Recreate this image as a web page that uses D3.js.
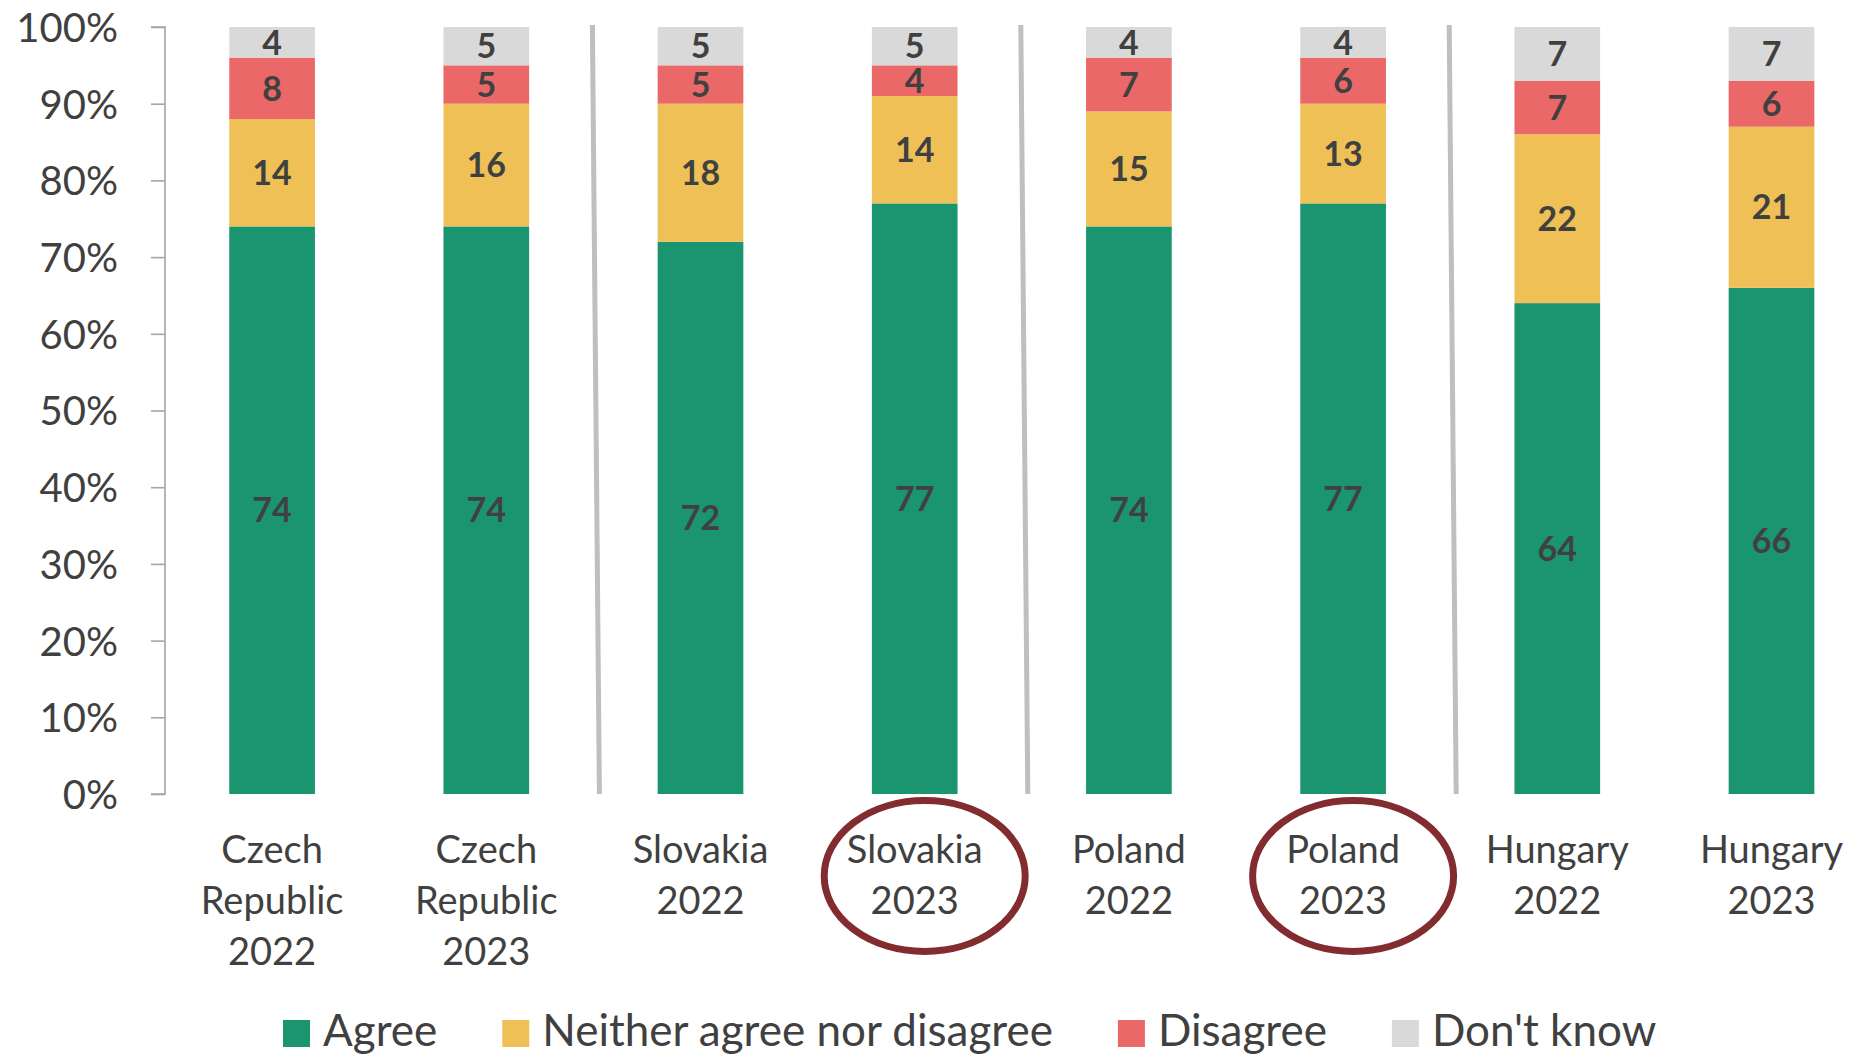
<!DOCTYPE html>
<html>
<head>
<meta charset="utf-8">
<script src="https://cdn.jsdelivr.net/npm/d3@7"></script>
<style>
  html, body { margin: 0; padding: 0; background: #ffffff; }
  svg { display: block; }
  text { font-family: Lato, "Open Sans", sans-serif; }
</style>
</head>
<body>
<svg id="chart" width="1849" height="1057"></svg>
<script>
// ---- data ----
const categories = [
  "Czech Republic 2022", "Czech Republic 2023",
  "Slovakia 2022", "Slovakia 2023",
  "Poland 2022", "Poland 2023",
  "Hungary 2022", "Hungary 2023"
];
const seriesNames = ["Agree", "Neither agree nor disagree", "Disagree", "Don't know"];
const agree    = [74, 74, 72, 77, 74, 77, 64, 66];
const neither  = [14, 16, 18, 14, 15, 13, 22, 21];
const disagree = [8, 5, 5, 4, 7, 6, 7, 6];
const dontKnow = [4, 5, 5, 5, 4, 4, 7, 7];
const yTicks = [0, 10, 20, 30, 40, 50, 60, 70, 80, 90, 100];
const highlighted = ["Slovakia 2023", "Poland 2023"];
const separatorsAfter = ["Czech Republic 2023", "Slovakia 2023", "Poland 2023"];

// ---- styles ----
const colors = ["#1b9470", "#efc056", "#ea6868", "#d9d9d9"];
const textColor = "#404040";

const svg = d3.select("#chart");
const plot = { left: 165, top: 27, bottom: 794 };
const bandStep = 214.2;

const x = d3.scaleBand()
  .domain(categories)
  .range([plot.left, plot.left + bandStep * categories.length])
  .paddingInner(0.6)
  .paddingOuter(0.3);

const y = d3.scaleLinear().domain([0, 100]).range([plot.bottom, plot.top]);

const rows = categories.map((c, i) => ({
  cat: c,
  "Agree": agree[i],
  "Neither agree nor disagree": neither[i],
  "Disagree": disagree[i],
  "Don't know": dontKnow[i]
}));
const stacked = d3.stack().keys(seriesNames)(rows);

// y axis
const yAxis = d3.axisLeft(y)
  .tickValues(yTicks)
  .tickFormat(d => d + "%")
  .tickSize(14)
  .tickPadding(33);
const gy = svg.append("g").attr("transform", `translate(${plot.left},0)`).call(yAxis);
gy.select(".domain").attr("stroke", "#a6a6a6").attr("stroke-width", 1.6)
  .attr("d", `M-14,${y(100)}H0V${y(0)}H-14`);
gy.selectAll(".tick line").attr("stroke", "#a6a6a6").attr("stroke-width", 1.6);
gy.selectAll(".tick text")
  .attr("fill", textColor)
  .attr("font-size", 40)
  .attr("font-family", "Lato, sans-serif")
  .attr("dy", "0.36em");

// separators
const sepG = svg.append("g");
separatorsAfter.forEach(c => {
  const b = x(c) + x.bandwidth() + x.step() * x.paddingInner() / 2;
  sepG.append("line")
    .attr("x1", b - 1).attr("y1", y(100) - 2)
    .attr("x2", b + 6).attr("y2", y(0))
    .attr("stroke", "#bfbfbf")
    .attr("stroke-width", 5);
});

// bars
const layers = svg.append("g").selectAll("g")
  .data(stacked)
  .join("g")
  .attr("fill", (d, i) => colors[i]);

layers.selectAll("rect")
  .data(d => d)
  .join("rect")
  .attr("x", d => x(d.data.cat))
  .attr("width", x.bandwidth())
  .attr("y", d => y(d[1]))
  .attr("height", d => y(d[0]) - y(d[1]));

// labels
const labG = svg.append("g");
stacked.forEach(layer => {
  layer.forEach(d => {
    labG.append("text")
      .attr("x", x(d.data.cat) + x.bandwidth() / 2)
      .attr("y", (y(d[0]) + y(d[1])) / 2)
      .attr("dy", "0.36em")
      .attr("text-anchor", "middle")
      .attr("font-size", 34)
      .attr("font-weight", 700)
      .attr("fill", textColor)
      .text(d[1] - d[0]);
  });
});

// x category labels
const xLab = svg.append("g");
categories.forEach(c => {
  const t = xLab.append("text")
    .attr("x", x(c) + x.bandwidth() / 2)
    .attr("y", 863)
    .attr("text-anchor", "middle")
    .attr("font-size", 38)
    .attr("fill", textColor);
  c.split(" ").forEach((w, i) => {
    t.append("tspan")
      .attr("x", x(c) + x.bandwidth() / 2)
      .attr("dy", i === 0 ? 0 : 51)
      .text(w);
  });
});

// highlight ellipses
highlighted.forEach(c => {
  svg.append("ellipse")
    .attr("cx", x(c) + x.bandwidth() / 2 + 10)
    .attr("cy", 876)
    .attr("rx", 100.5)
    .attr("ry", 75.5)
    .attr("fill", "none")
    .attr("stroke", "#832c30")
    .attr("stroke-width", 7);
});

// legend
const leg = svg.append("g").attr("transform", "translate(283,0)");
const sq = 27, gapSqText = 13, gapItems = 65;
let cursor = 0;
seriesNames.forEach((n, i) => {
  const g = leg.append("g").attr("transform", `translate(${cursor},0)`);
  g.append("rect").attr("x", 0).attr("y", 1020).attr("width", sq).attr("height", sq).attr("fill", colors[i]);
  const t = g.append("text")
    .attr("x", sq + gapSqText).attr("y", 1046)
    .attr("font-size", 44).attr("fill", textColor).text(n);
  cursor += sq + gapSqText + t.node().getComputedTextLength() + gapItems;
});
</script>
</body>
</html>
